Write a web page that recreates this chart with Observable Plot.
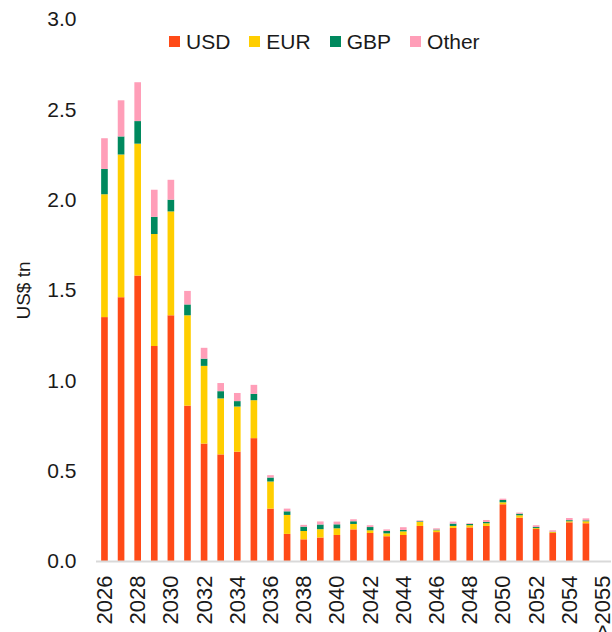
<!DOCTYPE html>
<html>
<head>
<meta charset="utf-8">
<script src="https://cdn.jsdelivr.net/npm/d3@7"></script>
<script src="https://cdn.jsdelivr.net/npm/@observablehq/plot@0.6"></script>
<style>
  html, body { margin: 0; padding: 0; background: #ffffff; }
  #wrap { position: relative; width: 612px; height: 632px; font-family: "Liberation Sans", Arial, sans-serif; color: #1a1a1a; overflow: hidden; }
  #chart { position: absolute; left: 0; top: 0; }
  #legend { position: absolute; left: 169px; top: 25px; width: 420px; white-space: nowrap; }
  #legend > * { font-family: "Liberation Sans", Arial, sans-serif !important; font-size: 21px !important; color: #1a1a1a !important; margin: 0 !important; }
  #legend span { margin-right: 19px !important; }
  #legend svg { margin-right: 6px !important; }
</style>
</head>
<body>
<div id="wrap"><div id="chart"></div><div id="legend"></div></div>
<script>
// ---- data ----
const years = ["2026","2027","2028","2029","2030","2031","2032","2033","2034","2035",
               "2036","2037","2038","2039","2040","2041","2042","2043","2044","2045",
               "2046","2047","2048","2049","2050","2051","2052","2053","2054","2055"];
const extraCategory = [">2055"];
const usd   = [1.35,1.46,1.58,1.19,1.36,0.86,0.65,0.59,0.605,0.68,
               0.29,0.15,0.12,0.13,0.144,0.175,0.155,0.137,0.144,0.194,
               0.16,0.183,0.186,0.194,0.314,0.24,0.177,0.155,0.214,0.209];
const eur   = [0.68,0.79,0.73,0.62,0.575,0.50,0.43,0.31,0.25,0.21,
               0.15,0.105,0.046,0.046,0.037,0.03,0.015,0.016,0.02,0.022,
               0.01,0.011,0.012,0.015,0.011,0.013,0.005,0.005,0.006,0.011];
const gbp   = [0.14,0.10,0.125,0.095,0.065,0.06,0.04,0.04,0.03,0.035,
               0.022,0.02,0.024,0.026,0.022,0.015,0.018,0.013,0.008,0.004,
               0.004,0.013,0.007,0.007,0.013,0.009,0.006,0.002,0.006,0.005];
const other = [0.17,0.20,0.215,0.15,0.11,0.075,0.06,0.045,0.045,0.05,
               0.013,0.015,0.01,0.017,0.015,0.011,0.01,0.009,0.015,0.005,
               0.007,0.011,0.004,0.011,0.007,0.006,0.01,0.008,0.012,0.011];
const currencies = ["USD","EUR","GBP","Other"];
const colors = ["#ff4a17","#ffce00","#00895e","#ff9eb8"];
const yTicks = [0, 0.5, 1.0, 1.5, 2.0, 2.5, 3.0];
const xTickLabels = ["2026","2028","2030","2032","2034","2036","2038","2040",
                     "2042","2044","2046","2048","2050","2052","2054",">2055"];
const yLabel = "US$ tn";

// ---- build table ----
const series = {USD: usd, EUR: eur, GBP: gbp, Other: other};
const rows = [];
years.forEach((yr, i) => {
  currencies.forEach(c => rows.push({year: yr, currency: c, value: series[c][i]}));
});
const categories = years.concat(extraCategory);

const chart = Plot.plot({
  width: 612,
  height: 632,
  marginTop: 19,
  marginBottom: 71,
  marginLeft: 96,
  marginRight: 1,
  style: {fontFamily: "Liberation Sans, Arial, sans-serif", color: "#1a1a1a", background: "white"},
  x: {type: "band", domain: categories, paddingInner: 0.6, paddingOuter: 0.31, round: false},
  y: {domain: [0, 3]},
  color: {domain: currencies, range: colors},
  marks: [
    Plot.barY(rows, {x: "year", y: "value", fill: "currency", order: currencies}),
    Plot.ruleY([0], {stroke: "#d9d9d9", strokeWidth: 2}),
    Plot.axisY({ticks: yTicks, tickFormat: d3.format(".1f"), tickSize: 0, tickPadding: 20, fontSize: 21, label: null}),
    Plot.axisX({ticks: xTickLabels, tickRotate: -90, tickSize: 0, tickPadding: 14, fontSize: 22, label: null}),
    Plot.text([yLabel], {frameAnchor: "left", textAnchor: "middle", lineAnchor: "middle", dx: -73, rotate: -90, fontSize: 19, text: d => d, fill: "#1a1a1a"})
  ]
});
document.getElementById("chart").appendChild(chart);

const legend = Plot.legend({color: {domain: currencies, range: colors}, legend: "swatches", swatchSize: 11, className: "lg"});
document.getElementById("legend").appendChild(legend);
</script>
</body>
</html>
